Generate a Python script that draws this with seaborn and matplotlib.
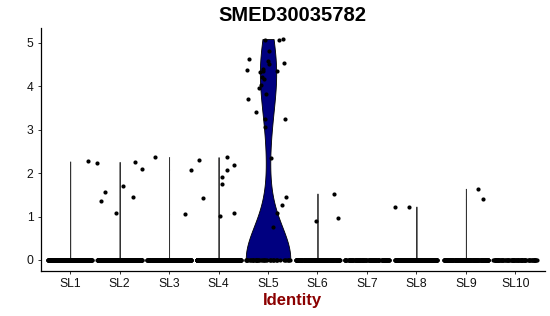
import numpy as np
import pandas as pd
import matplotlib
matplotlib.use("Agg")
import matplotlib.pyplot as plt
import seaborn as sns

# ---- data ----
categories = ["SL1", "SL2", "SL3", "SL4", "SL5", "SL6", "SL7", "SL8", "SL9", "SL10"]
zero_counts = [250, 400, 300, 350, 48, 200, 150, 200, 180, 90]
sl1_pos = [2.27]
sl2_pos = [2.26, 2.23, 2.10, 1.70, 1.57, 1.44, 1.35, 1.08]
sl3_pos = [2.37, 2.08, 1.06]
sl4_pos = [2.37, 2.30, 2.18, 2.07, 1.91, 1.74, 1.43, 1.08, 1.01]
sl5_pos = [5.09, 5.07, 5.07, 4.82, 4.64, 4.58, 4.54, 4.52, 4.40, 4.38,
           4.35, 4.35, 4.33, 4.22, 4.18, 4.03, 3.97, 3.82, 3.71, 3.41,
           3.25, 3.25, 3.06, 2.36, 1.44, 1.27, 1.09, 0.77]
sl6_pos = [1.53, 0.96, 0.89]
sl7_pos = []
sl8_pos = [1.23, 1.21]
sl9_pos = [1.64, 1.41]
sl10_pos = []
positives = [sl1_pos, sl2_pos, sl3_pos, sl4_pos, sl5_pos,
             sl6_pos, sl7_pos, sl8_pos, sl9_pos, sl10_pos]
y_ticks = [0, 1, 2, 3, 4, 5]
title = "SMED30035782"
x_label = "Identity"

rows = []
for cat, nz, pos in zip(categories, zero_counts, positives):
    for v in [0.0] * nz + list(pos):
        rows.append((cat, v))
df = pd.DataFrame(rows, columns=["ident", "expr"])

# ---- styling ----
sns.set_style("ticks")
plt.rcParams["font.family"] = ["Liberation Sans", "DejaVu Sans"]

fig = plt.figure(figsize=(5.5, 3.16), dpi=100)
ax = fig.add_axes([40.5 / 550, 1 - 271 / 316, (545 - 40.5) / 550, (271 - 28) / 316])

navy = "#000080"
main = df[df["ident"] == "SL5"]
rest = df[(df["ident"] != "SL5") & (df["ident"].isin(
    [c for c, p in zip(categories, positives) if len(p) > 0]))]

sns.violinplot(data=main, x="ident", y="expr", order=categories, ax=ax,
               color=navy, saturation=1, inner=None, cut=0, width=0.9,
               density_norm="width", bw_adjust=0.9, linewidth=0.6,
               linecolor="black")
sns.violinplot(data=rest, x="ident", y="expr", order=categories, ax=ax,
               color=navy, saturation=1, inner=None, cut=0, width=0.9,
               density_norm="width", bw_method=0.05, linewidth=0.6,
               linecolor="#333333")

np.random.seed(7)
sns.stripplot(data=df, x="ident", y="expr", order=categories, ax=ax,
              color="black", size=3.0, jitter=0.45, linewidth=0, zorder=5)

ax.set_xlim(-0.6, 9.6)
ax.set_ylim(-0.255, 5.345)
ax.set_yticks(y_ticks)
ax.set_yticklabels([str(t) for t in y_ticks])
ax.set_ylabel("")
ax.set_xlabel("")
sns.despine(ax=ax)
for s in ["left", "bottom"]:
    ax.spines[s].set_linewidth(0.9)
    ax.spines[s].set_color("black")
ax.tick_params(axis="both", length=2.5, width=0.7, color="#333333",
               labelsize=8.7, labelcolor="#111111", pad=2.5)

fig.text((40.5 + 545) / 2 / 550, 1 - 15.5 / 316, title, ha="center",
         va="center", fontsize=14.5, fontweight="bold", color="black")
fig.text((40.5 + 545) / 2 / 550, 1 - 304.5 / 316, x_label, ha="center",
         va="baseline", fontsize=12, fontweight="bold", color="#8B0000")

fig.savefig("out.png", dpi=100)
